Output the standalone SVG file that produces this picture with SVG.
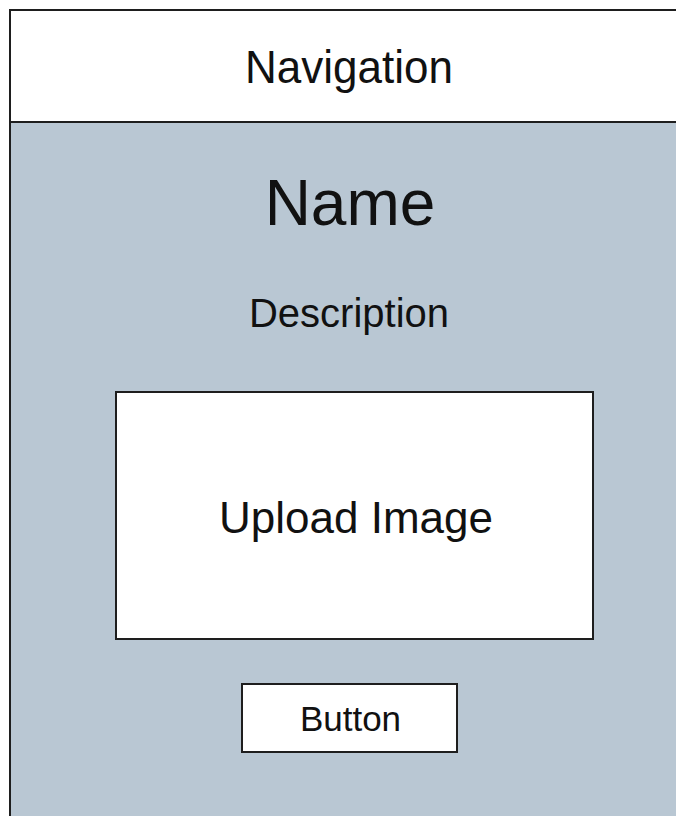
<svg xmlns="http://www.w3.org/2000/svg" width="676" height="816" viewBox="0 0 676 816">
  <style>
    .box { stroke: #1e1e1e; stroke-width: 2; }
    .lbl { font-family: "Liberation Sans", Arial, sans-serif; fill: #111; text-anchor: middle; }
  </style>
  <rect x="0" y="0" width="676" height="816" fill="#ffffff"/>
  <!-- page body -->
  <g id="page">
    <rect class="box" x="10" y="10" width="700" height="850" fill="#b9c7d3"/>
  </g>
  <!-- top navigation bar -->
  <g id="navigation">
    <rect class="box" x="10" y="10" width="700" height="112" fill="#ffffff"/>
    <text class="lbl" x="349" y="83" font-size="44" transform="translate(0,-4) scale(1,1.05)">Navigation</text>
  </g>
  <g id="name">
    <text class="lbl" x="350" y="225" font-size="64">Name</text>
  </g>
  <g id="description">
    <text class="lbl" x="349" y="327" font-size="40">Description</text>
  </g>
  <g id="upload">
    <rect class="box" x="116" y="392" width="477" height="247" fill="#ffffff"/>
    <text class="lbl" x="356" y="533" font-size="44">Upload Image</text>
  </g>
  <g id="button">
    <rect class="box" x="242" y="684" width="215" height="68" fill="#ffffff"/>
    <text class="lbl" x="350.5" y="731" font-size="35">Button</text>
  </g>
  <g id="connectors"/>
</svg>
